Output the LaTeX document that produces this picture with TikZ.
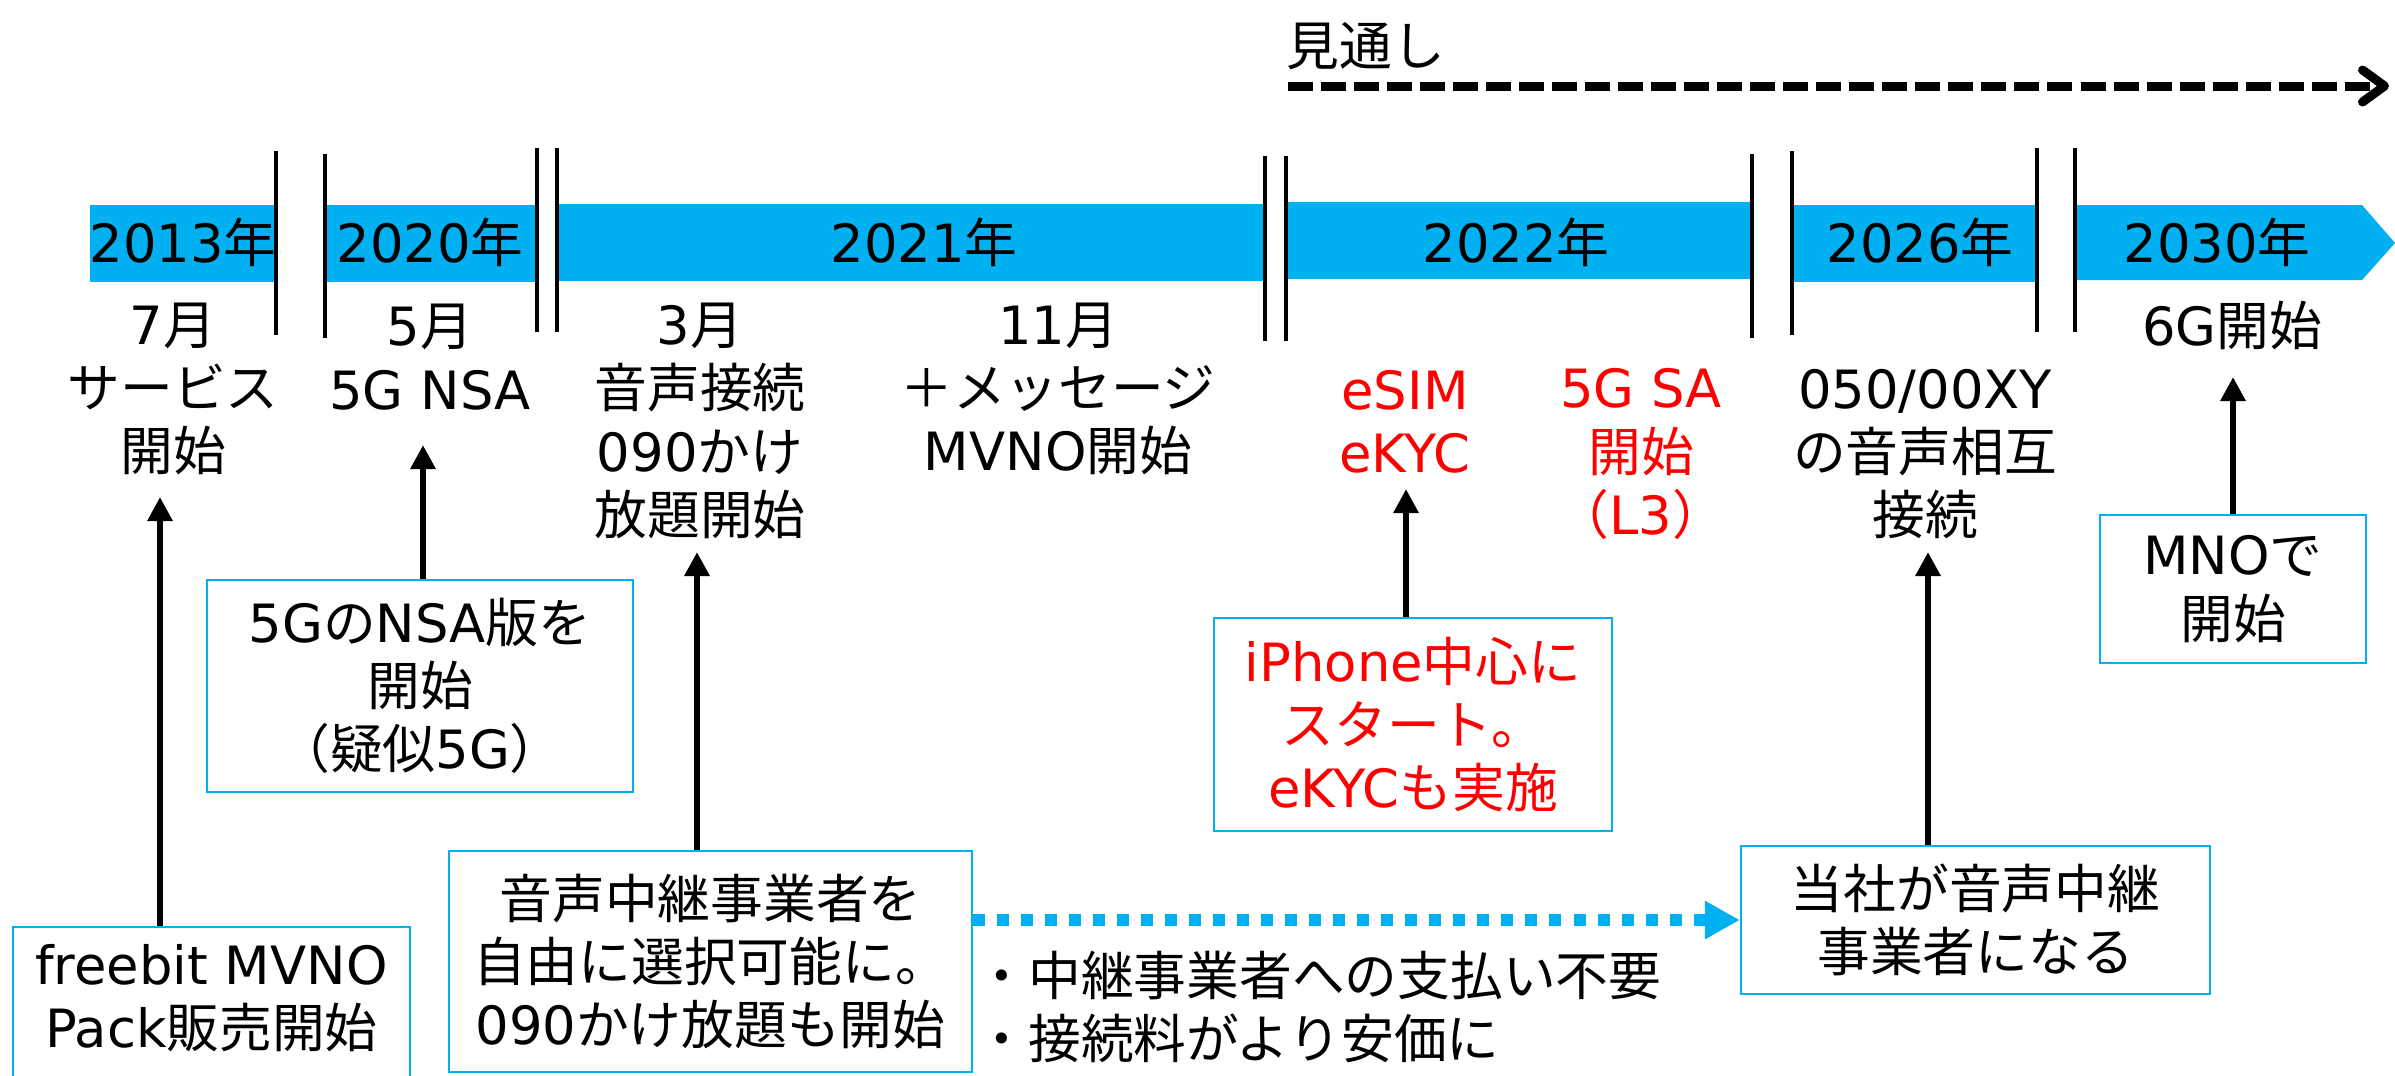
\documentclass[tikz,border=0pt]{standalone}
\usepackage{fontspec}
\setmainfont{DejaVu Sans}
\newfontfamily\cjkfont{Noto Sans CJK JP}
\usetikzlibrary{arrows.meta}
\XeTeXinterchartokenstate=1
\newXeTeXintercharclass\cjkcls
\newcount\cjkcnt
\def\setcjkrange#1#2{\cjkcnt=#1\relax
  \loop\XeTeXcharclass\cjkcnt=\cjkcls\relax
  \ifnum\cjkcnt<#2\relax\advance\cjkcnt by 1\relax\repeat}
\setcjkrange{"3000}{"30FF}
\setcjkrange{"4E00}{"9FFF}
\setcjkrange{"FF00}{"FFEF}
\XeTeXinterchartoks 0 \cjkcls = {\cjkfont}
\XeTeXinterchartoks 4095 \cjkcls = {\cjkfont}
\XeTeXinterchartoks \cjkcls 0 = {\rmfamily}
\XeTeXinterchartoks \cjkcls 4095 = {\rmfamily}
\definecolor{barblue}{HTML}{00B0F0}
\definecolor{redtext}{HTML}{FF0000}
\tikzset{
  txt/.style={font=\fontsize{15pt}{18pt}\selectfont, align=center, inner sep=0pt},
  redtxt/.style={txt, text=redtext},
  infobox/.style={draw=barblue, line width=0.02cm, txt},
  sepline/.style={line width=0.04cm},
  uparrow/.style={line width=0.06cm, -{Triangle[length=0.24cm,width=0.24cm]}},
  dotarrow/.style={draw=barblue, line width=0.12cm, dash pattern=on 0.12cm off 0.12cm,
    -{Triangle[length=0.35cm,width=0.36cm]}},
  outlookarrow/.style={line width=0.09cm, dash pattern=on 0.25cm off 0.08cm,
    -{Straight Barb[length=0.22cm,width=0.32cm,round]}},
}
\begin{document}
\begin{tikzpicture}[x=0.01cm,y=-0.01cm]
\useasboundingbox (0,0) rectangle (2395,1075);
% banner
\fill[barblue] (90,205) rectangle (275,282);
\fill[barblue] (327,205) rectangle (535,282);
\fill[barblue] (559,204) rectangle (1264,281);
\fill[barblue] (1286,202) rectangle (1750,279);
\fill[barblue] (1793,205) rectangle (2036,282);
\fill[barblue] (2076,205) -- (2362,205) -- (2395,243) -- (2362,280) -- (2076,280) -- cycle;
\node[txt] (y2013) at (183,242) {2013年};
\node[txt] (y2020) at (430,242) {2020年};
\node[txt] (y2021) at (924,242) {2021年};
\node[txt] (y2022) at (1516,242) {2022年};
\node[txt] (y2026) at (1920,242) {2026年};
\node[txt] (y2030) at (2217,242) {2030年};
% separators
\draw[sepline] (276,151) -- (276,335);
\draw[sepline] (325,154) -- (325,338);
\draw[sepline] (537,148) -- (537,332);
\draw[sepline] (557,148) -- (557,332);
\draw[sepline] (1265,156) -- (1265,341);
\draw[sepline] (1286,156) -- (1286,341);
\draw[sepline] (1752,154) -- (1752,338);
\draw[sepline] (1792,151) -- (1792,335);
\draw[sepline] (2037,148) -- (2037,332);
\draw[sepline] (2075,148) -- (2075,332);
% outlook
\node[txt, anchor=west] (outlook) at (1286,46) {見通し};
\coordinate (os) at (1288,86);
\coordinate (oe) at (2389,86);
\draw[outlookarrow] (os) -- (oe);
% event texts
\node[txt] (t1) at (173,389) {7月\\サービス\\開始};
\node[txt] (t2) at (430,357) {5月\\5G NSA};
\node[txt] (t3) at (700,421) {3月\\音声接続\\090かけ\\放題開始};
\node[txt] (t4) at (1058,389) {11月\\＋メッセージ\\MVNO開始};
\node[redtxt] (t5) at (1405,422) {eSIM\\eKYC};
\node[redtxt] (t6) at (1641,454) {5G SA\\開始\\（L3）};
\node[txt] (t7) at (1925,454) {050/00XY\\の音声相互\\接続};
\node[txt] (t8) at (2232,325) {6G開始};
% boxes
\node[infobox, minimum width=4.26cm, minimum height=2.12cm] (b1) at (420,686) {5GのNSA版を\\開始\\（疑似5G）};
\node[draw=barblue, line width=0.02cm, minimum width=3.97cm, minimum height=2.0cm] (b2) at (211.5,1027) {};
\node[txt] (b2t) at (211.5,998) {freebit MVNO\\Pack販売開始};
\node[infobox, minimum width=5.23cm, minimum height=2.21cm] (b3) at (710.5,961.5) {音声中継事業者を\\自由に選択可能に。\\090かけ放題も開始};
\node[infobox, minimum width=3.98cm, minimum height=2.13cm, text=redtext] (b4) at (1413,724.5) {iPhone中心に\\スタート。\\eKYCも実施};
\node[infobox, minimum width=4.69cm, minimum height=1.48cm] (b5) at (1975.5,920) {当社が音声中継\\事業者になる};
\node[infobox, minimum width=2.66cm, minimum height=1.48cm] (b6) at (2233,589) {MNOで\\開始};
\node[txt, anchor=west, align=left] (notes) at (975,1007) {・中継事業者への支払い不要\\・接続料がより安価に};
% arrow tips
\coordinate (p1) at (160,497);
\coordinate (p2) at (423,445);
\coordinate (p3) at (697,552);
\coordinate (p4) at (1406,489);
\coordinate (p5) at (1928,552);
\coordinate (p6) at (2233,377);
\draw[uparrow] (b2.north -| p1) -- (p1);
\draw[uparrow] (b1.north -| p2) -- (p2);
\draw[uparrow] (b3.north -| p3) -- (p3);
\draw[uparrow] (b4.north -| p4) -- (p4);
\draw[uparrow] (b5.north -| p5) -- (p5);
\draw[uparrow] (b6.north -| p6) -- (p6);
\draw[dotarrow] (b3.east |- b5.west) -- (b5.west);
\end{tikzpicture}
\end{document}
